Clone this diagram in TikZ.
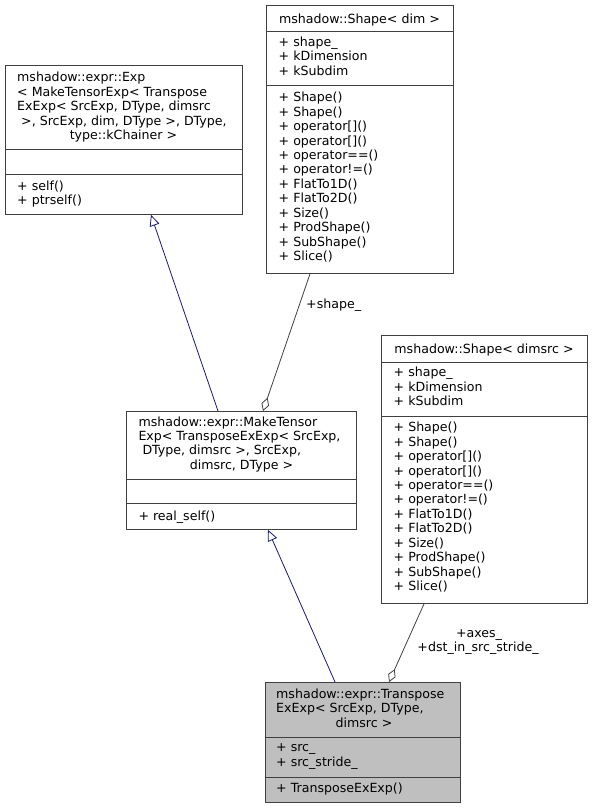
\documentclass[tikz,border=0pt]{standalone}
\usepackage{fontspec}
\setmainfont{DejaVu Sans}
\usetikzlibrary{arrows.meta}
\definecolor{boxgray}{HTML}{404040}
\definecolor{inhblue}{HTML}{191970}
\definecolor{fillgray}{HTML}{BFBFBF}
\begin{document}
\begin{tikzpicture}[x=1pt,y=-1pt,
  every node/.style={font=\fontsize{12.6}{14.45}\selectfont},
  classbox/.style={draw=boxgray, line width=0.9pt, inner sep=0pt, anchor=north west},
  sepline/.style={draw=boxgray, line width=0.9pt},
  ltxt/.style={inner sep=0pt, anchor=base west},
  ctxt/.style={inner sep=0pt, anchor=base},
  inh/.style={draw=inhblue, line width=0.8pt, -{Triangle[length=11pt,width=10pt,fill=white]}},
  usage/.style={draw=boxgray, line width=0.8pt, {Diamond[length=14pt,width=8pt,fill=white]}-}
]
\useasboundingbox (0,0) rectangle (593,808);

% ---- mshadow::expr::Exp ----
\node[classbox, minimum width=237pt, minimum height=149pt] (exp) at (5,65) {};
\draw[sepline] (5,149) -- (242,149);
\draw[sepline] (5,174) -- (242,174);
\node[ltxt] (exp1) at (17,81.5) {mshadow::expr::Exp};
\node[ltxt] (exp2) at (17,96) {< MakeTensorExp< Transpose};
\node[ltxt] (exp3) at (17,110.5) {ExExp< SrcExp, DType, dimsrc};
\node[ltxt] (exp4) at (21,125) {>, SrcExp, dim, DType >, DType,};
\node[ctxt] (exp5) at (123.5,139.5) {type::kChainer >};
\node[ltxt] (expm1) at (17,190) {+ self()};
\node[ltxt] (expm2) at (17,204.5) {+ ptrself()};

% ---- mshadow::Shape< dim > ----
\node[classbox, minimum width=187pt, minimum height=268pt] (shd) at (266,5) {};
\draw[sepline] (266,31) -- (453,31);
\draw[sepline] (266,85) -- (453,85);
\node[ctxt] (shdt) at (359.5,23.5) {mshadow::Shape< dim >};
\node[ltxt] (shda1) at (278.5,46.5) {+ shape\_};
\node[ltxt] (shda2) at (278.5,61) {+ kDimension};
\node[ltxt] (shda3) at (278.5,75.5) {+ kSubdim};
\node[ltxt] (shdm1) at (278.5,101.7) {+ Shape()};
\node[ltxt] (shdm2) at (278.5,116.15) {+ Shape()};
\node[ltxt] (shdm3) at (278.5,130.6) {+ operator[]()};
\node[ltxt] (shdm4) at (278.5,145.05) {+ operator[]()};
\node[ltxt] (shdm5) at (278.5,159.5) {+ operator==()};
\node[ltxt] (shdm6) at (278.5,173.95) {+ operator!=()};
\node[ltxt] (shdm7) at (278.5,188.4) {+ FlatTo1D()};
\node[ltxt] (shdm8) at (278.5,202.85) {+ FlatTo2D()};
\node[ltxt] (shdm9) at (278.5,217.3) {+ Size()};
\node[ltxt] (shdm10) at (278.5,231.75) {+ ProdShape()};
\node[ltxt] (shdm11) at (278.5,246.2) {+ SubShape()};
\node[ltxt] (shdm12) at (278.5,260.65) {+ Slice()};

% ---- mshadow::Shape< dimsrc > ----
\node[classbox, minimum width=206pt, minimum height=268pt] (shs) at (381,335) {};
\draw[sepline] (381,362) -- (587,362);
\draw[sepline] (381,416) -- (587,416);
\node[ctxt] (shst) at (484,353.5) {mshadow::Shape< dimsrc >};
\node[ltxt] (shsa1) at (393.5,376.5) {+ shape\_};
\node[ltxt] (shsa2) at (393.5,391) {+ kDimension};
\node[ltxt] (shsa3) at (393.5,405.5) {+ kSubdim};
\node[ltxt] (shsm1) at (393.5,431.7) {+ Shape()};
\node[ltxt] (shsm2) at (393.5,446.15) {+ Shape()};
\node[ltxt] (shsm3) at (393.5,460.6) {+ operator[]()};
\node[ltxt] (shsm4) at (393.5,475.05) {+ operator[]()};
\node[ltxt] (shsm5) at (393.5,489.5) {+ operator==()};
\node[ltxt] (shsm6) at (393.5,503.95) {+ operator!=()};
\node[ltxt] (shsm7) at (393.5,518.4) {+ FlatTo1D()};
\node[ltxt] (shsm8) at (393.5,532.85) {+ FlatTo2D()};
\node[ltxt] (shsm9) at (393.5,547.3) {+ Size()};
\node[ltxt] (shsm10) at (393.5,561.75) {+ ProdShape()};
\node[ltxt] (shsm11) at (393.5,576.2) {+ SubShape()};
\node[ltxt] (shsm12) at (393.5,590.65) {+ Slice()};

% ---- mshadow::expr::MakeTensorExp ----
\node[classbox, minimum width=230pt, minimum height=118pt] (mt) at (126,411) {};
\draw[sepline] (126,479) -- (356,479);
\draw[sepline] (126,503) -- (356,503);
\node[ltxt] (mt1) at (138.3,426) {mshadow::expr::MakeTensor};
\node[ltxt] (mt2) at (138.3,440.45) {Exp< TransposeExExp< SrcExp,};
\node[ltxt] (mt3) at (142.3,454.9) {DType, dimsrc >, SrcExp,};
\node[ctxt] (mt4) at (241.5,469.35) {dimsrc, DType >};
\node[ltxt] (mtm1) at (138.3,520) {+ real\_self()};

% ---- mshadow::expr::TransposeExExp ----
\node[classbox, fill=fillgray, minimum width=195pt, minimum height=120pt] (tr) at (265,682) {};
\draw[sepline] (265,737) -- (460,737);
\draw[sepline] (265,777) -- (460,777);
\node[ltxt] (tr1) at (276,698.3) {mshadow::expr::Transpose};
\node[ltxt] (tr2) at (276,712.75) {ExExp< SrcExp, DType,};
\node[ctxt] (tr3) at (364,727.2) {dimsrc >};
\node[ltxt] (tra1) at (276,751.7) {+ src\_};
\node[ltxt] (tra2) at (276,766.15) {+ src\_stride\_};
\node[ltxt] (trm1) at (276,792.7) {+ TransposeExExp()};

% ---- connectors ----
\draw[inh] ([xshift=92pt]mt.north west) -- ([xshift=146pt]exp.south west);
\draw[inh] ([xshift=70pt]tr.north west) -- ([xshift=142pt]mt.south west);
\draw[usage] ([xshift=137pt]mt.north west) -- ([xshift=44pt]shd.south west);
\draw[usage] ([xshift=124pt]tr.north west) -- ([xshift=43pt]shs.south west);

% ---- connector labels ----
\node[ltxt] (lshape) at (306,308) {+shape\_};
\node[ctxt] (laxes) at (479,637.3) {+axes\_};
\node[ctxt] (ldst) at (478,651.7) {+dst\_in\_src\_stride\_};
\end{tikzpicture}
\end{document}
